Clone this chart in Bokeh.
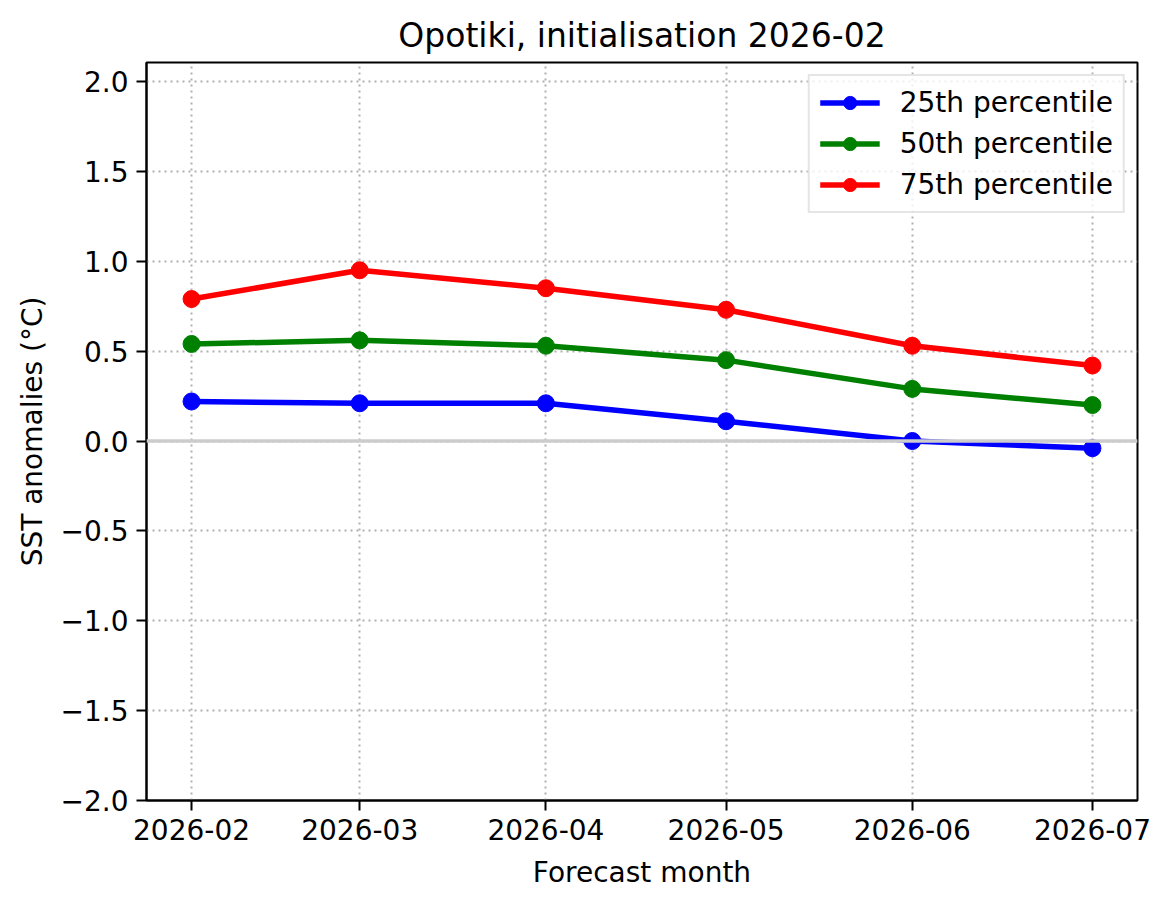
import pandas as pd
from bokeh.plotting import figure
from bokeh.models import Range1d, FixedTicker, DatetimeTickFormatter, CustomJSTickFormatter, Span
from bokeh.embed import file_html
from bokeh.resources import INLINE

months = ["2026-02-01", "2026-03-01", "2026-04-01", "2026-05-01", "2026-06-01", "2026-07-01"]
p25 = [0.22, 0.21, 0.21, 0.11, 0.00, -0.04]
p50 = [0.54, 0.56, 0.53, 0.45, 0.29, 0.20]
p75 = [0.79, 0.95, 0.85, 0.73, 0.53, 0.42]
series_names = ["25th percentile", "50th percentile", "75th percentile"]
series_colors = ["#0000ff", "#008000", "#ff0000"]
y_ticks = [-2.0, -1.5, -1.0, -0.5, 0.0, 0.5, 1.0, 1.5, 2.0]

dates = pd.to_datetime(months)
tick_ms = [int(t) for t in (dates.astype("int64") // 10**6)]
pad = pd.Timedelta(days=7.5)

FONT = "DejaVu Sans"

p = figure(
    x_axis_type="datetime",
    frame_width=991, frame_height=738,
    min_border_left=146, min_border_right=26, min_border_top=62, min_border_bottom=100,
    output_backend="svg", toolbar_location=None,
    title="Opotiki, initialisation 2026-02",
    x_range=Range1d(dates[0] - pad, dates[-1] + pad),
    y_range=Range1d(-2.0, 2.106),
)

p.title.text_font = FONT
p.title.text_font_size = "33px"
p.title.text_font_style = "normal"
p.title.align = "center"
p.title.text_color = "black"
p.title.standoff = 15

for vals, name, col in zip([p25, p50, p75], series_names, series_colors):
    p.line(dates, vals, line_color=col, line_width=5.5, legend_label=name)
    p.scatter(dates, vals, size=17, fill_color=col, line_color=col, legend_label=name)

p.add_layout(Span(location=0, dimension="width", line_color="#cccccc", line_width=3.5))

p.xaxis.ticker = FixedTicker(ticks=tick_ms)
fmt = "%Y-%m"
p.xaxis.formatter = DatetimeTickFormatter(
    milliseconds=fmt, seconds=fmt, minsec=fmt, minutes=fmt, hourmin=fmt, hours=fmt,
    days=fmt, months=fmt, years=fmt)
p.yaxis.ticker = FixedTicker(ticks=y_ticks)
p.yaxis.formatter = CustomJSTickFormatter(
    code='return (tick < -1e-9 ? "\\u2212" : "") + Math.abs(tick).toFixed(1);')

p.xaxis.axis_label = "Forecast month"
p.yaxis.axis_label = "SST anomalies (°C)"

for ax in [p.xaxis[0], p.yaxis[0]]:
    ax.axis_line_width = 2
    ax.axis_line_color = "black"
    ax.major_tick_line_width = 2
    ax.major_tick_line_color = "black"
    ax.major_tick_out = 10
    ax.major_tick_in = 0
    ax.minor_tick_line_color = None
    ax.major_label_text_font = FONT
    ax.major_label_text_font_size = "28px"
    ax.major_label_text_color = "black"
    ax.axis_label_text_font = FONT
    ax.axis_label_text_font_size = "28px"
    ax.axis_label_text_font_style = "normal"
    ax.axis_label_text_color = "black"
    ax.major_label_standoff = 8

p.xaxis.axis_label_standoff = 13
p.yaxis.axis_label_standoff = 9

p.outline_line_color = "black"
p.outline_line_width = 2
p.outline_line_alpha = 1

for g in [p.xgrid[0], p.ygrid[0]]:
    g.grid_line_color = "#b0b0b0"
    g.grid_line_width = 2
    g.grid_line_dash = "2 4"

leg = p.legend[0]
leg.location = "top_right"
leg.margin = 12
leg.padding = 10
leg.spacing = 8
leg.label_text_font = FONT
leg.label_text_font_size = "28px"
leg.label_text_color = "black"
leg.label_height = 33
leg.glyph_height = 33
leg.glyph_width = 60
leg.label_standoff = 20
leg.border_line_color = "#cccccc"
leg.border_line_width = 2
leg.background_fill_alpha = 0.8

open("out.html", "w").write(file_html(p, INLINE))
